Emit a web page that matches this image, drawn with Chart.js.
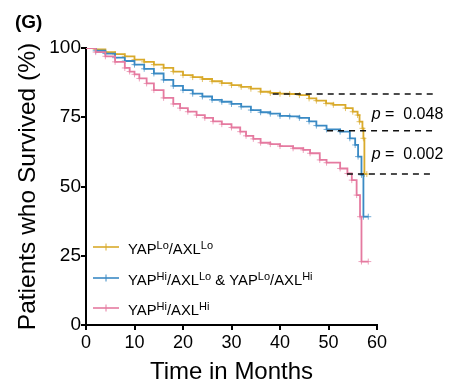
<!DOCTYPE html>
<html><head><meta charset="utf-8">
<script src="https://cdn.jsdelivr.net/npm/chart.js@4.4.1/dist/chart.umd.min.js"></script>
<style>html,body{margin:0;padding:0;background:#fff}</style>
</head><body>
<canvas id="c" width="465" height="387"></canvas>
<script>
// ---- data ----
const loloMonths   = [0,2,4,6,8,10,12,14,16,18,20,22,24,26,28,30,32,34,36,38,40,42,44,46,47.5,49.5,51,53.5,55,56,56.4,57,57.2,57.4,57.9];
const loloSurvival = [100,99.5,98.5,97.8,97,95.8,95,94,92.8,91.5,90.2,89.5,88.8,88,87.3,86.6,86,85.3,84.2,83.8,83.5,83.4,83,81.8,81,80,79.5,78.3,77,75.8,73.4,71,67.4,54.5,54.5];

const mixMonths    = [0,2,4,6,8,10,12,14,16,18,20,22,24,26,28,30,32,34,36,38,40,42,44,46,47.5,49.6,52.4,54.4,55.5,56.1,56.8,57.2,58.2];
const mixSurvival  = [100,99,98,96.5,95.3,94,92.5,90.8,88.5,86.3,84.8,83.5,82.5,81.3,80.6,79.8,78.8,77.6,76.8,76.3,75.5,75.3,74.8,73.5,72,70.6,69.8,67.4,65,60.8,54.2,39.1,39.1];

const hihiMonths   = [0,2,4,6,8,9,10,11,12.5,14,16,18,19.4,21,22.8,24.5,26.2,28,30,31.8,33,34.5,36,38,40,42.7,44.8,46.2,48.2,49.6,52.4,53.9,54.8,55.8,56.5,56.8,58.2];
const hihiSurvival = [100,98.5,97,95,92.8,91.5,90.5,89,87.2,84.8,82,79.8,78.3,77,75.8,74.8,73.5,72.5,71.3,69.8,68.3,67.2,65.8,65.3,64.6,63.8,63.2,62,59.6,58.6,56.5,54.7,52.3,46.9,39.1,22.9,22.9];

const seriesNames  = ['YAPLo/AXLLo', 'YAPHi/AXLLo & YAPLo/AXLHi', 'YAPHi/AXLHi'];
// rich-text segments for the legend: [text, isSuperscript]
const seriesLabelParts = [
  [['YAP',0],['Lo',1],['/AXL',0],['Lo',1]],
  [['YAP',0],['Hi',1],['/AXL',0],['Lo',1],[' & YAP',0],['Lo',1],['/AXL',0],['Hi',1]],
  [['YAP',0],['Hi',1],['/AXL',0],['Hi',1]]
];
const seriesColors = ['#D9AA2B', '#3A8AC4', '#E57AA0'];

const refLevels = [83.4, 70.1, 54.5];   // dashed reference levels (%)
const refStarts = [38.5, 49.7, 53.8];   // months where each dashed line starts
const refEnd    = 71.5;                 // months where dashed lines end
const pValues   = ['0.048', '0.002'];

const xTicks = [0,10,20,30,40,50,60];
const yTicks = [0,25,50,75,100];

const FONT = '"Liberation Sans", Arial, Helvetica, sans-serif';

function toXY(xs, ys){ return xs.map((x,i)=>({x:x, y:ys[i]})); }
function alpha(hex, a){
  const n = parseInt(hex.slice(1),16);
  return `rgba(${(n>>16)&255},${(n>>8)&255},${n&255},${a})`;
}

const kmSets = [[loloMonths,loloSurvival],[mixMonths,mixSurvival],[hihiMonths,hihiSurvival]];
const datasets = kmSets.map((s,i)=>({
  label: seriesNames[i],
  data: toXY(s[0], s[1]),
  borderColor: seriesColors[i],
  borderWidth: 1.8,
  stepped: 'before',
  fill: false,
  pointStyle: 'cross',
  pointRadius: ctx => ctx.dataIndex === 0 ? 0 : 3,
  pointBorderWidth: 1,
  pointBorderColor: alpha(seriesColors[i], 0.7),
  pointBackgroundColor: seriesColors[i],
  pointHoverRadius: 0,
  order: 3 - i
}));
refLevels.forEach((lv,i)=>{
  datasets.push({
    label: 'ref' + i,
    data: [{x: refStarts[i], y: lv}, {x: refEnd, y: lv}],
    borderColor: '#111',
    borderWidth: 1.5,
    borderDash: [6,5],
    pointRadius: 0,
    clip: false,
    order: 0
  });
});

function drawRich(ctx, x, y, parts, size, supSize, supRise){
  let cx = x;
  parts.forEach(p=>{
    ctx.font = (p[1] ? supSize : size) + 'px ' + FONT;
    ctx.fillText(p[0], cx, p[1] ? y - supRise : y);
    cx += ctx.measureText(p[0]).width;
  });
}

const overlay = {
  id: 'overlay',
  afterDraw(chart){
    const ctx = chart.ctx, ca = chart.chartArea;
    const xs = chart.scales.x, ys = chart.scales.y;
    ctx.save();
    ctx.fillStyle = '#000';
    ctx.textBaseline = 'alphabetic';
    // panel label
    ctx.font = 'bold 19px ' + FONT;
    ctx.fillText('(G)', 15, 28);
    // p-values between dashed lines
    pValues.forEach((pv,i)=>{
      const mid = ys.getPixelForValue((refLevels[i] + refLevels[i+1]) / 2);
      const x0 = xs.getPixelForValue(58.9);
      const yb = mid + 6.5;
      ctx.font = 'italic 16px ' + FONT;
      ctx.fillText('p', x0, yb);
      const w = ctx.measureText('p').width;
      ctx.font = '16px ' + FONT;
      ctx.fillText(' =  ' + pv, x0 + w, yb);
    });
    // legend
    const rows = [ca.top + 199, ca.top + 230, ca.top + 260];
    seriesLabelParts.forEach((parts,i)=>{
      const y = rows[i];
      const lx = ca.left + 7;
      ctx.strokeStyle = seriesColors[i];
      ctx.lineWidth = 1.6;
      ctx.beginPath(); ctx.moveTo(lx, y); ctx.lineTo(lx + 26, y); ctx.stroke();
      ctx.lineWidth = 1;
      ctx.beginPath(); ctx.moveTo(lx + 13, y - 3.5); ctx.lineTo(lx + 13, y + 3.5); ctx.stroke();
      ctx.fillStyle = '#000';
      drawRich(ctx, ca.left + 42, y + 7, parts, 14.8, 11, 5.5);
    });
    ctx.restore();
  }
};

new Chart(document.getElementById('c'), {
  type: 'line',
  data: { datasets },
  options: {
    responsive: false,
    animation: false,
    events: [],
    layout: { padding: { left: 0, top: 48, right: 88, bottom: 0 } },
    plugins: { legend: { display: false }, tooltip: { enabled: false }, title: { display: false } },
    scales: {
      x: {
        type: 'linear', min: 0, max: 60,
        afterFit(s){ s.height = 62; },
        afterBuildTicks(s){ s.ticks = xTicks.map(v=>({value:v})); },
        ticks: { color: '#000', font: { family: FONT, size: 18 }, padding: 2, maxRotation: 0 },
        grid: { display: true, drawOnChartArea: false, drawTicks: true, tickLength: 5, color: '#000', lineWidth: 2 },
        border: { display: true, color: '#000', width: 2 },
        title: { display: true, text: 'Time in Months', color: '#000', font: { family: FONT, size: 24 }, padding: { top: 0, bottom: 0 } }
      },
      y: {
        min: 0, max: 100,
        afterFit(s){ s.width = 86; },
        afterBuildTicks(s){ s.ticks = yTicks.map(v=>({value:v})); },
        ticks: { color: '#000', font: { family: FONT, size: 19 }, padding: 0 },
        grid: { display: true, drawOnChartArea: false, drawTicks: true, tickLength: 5, color: '#000', lineWidth: 2 },
        border: { display: true, color: '#000', width: 2 },
        title: { display: true, text: 'Patients who Survived (%)', color: '#000', font: { family: FONT, size: 24.5 }, padding: { top: 14, bottom: 0 } }
      }
    }
  },
  plugins: [overlay]
});
</script>
</body></html>
